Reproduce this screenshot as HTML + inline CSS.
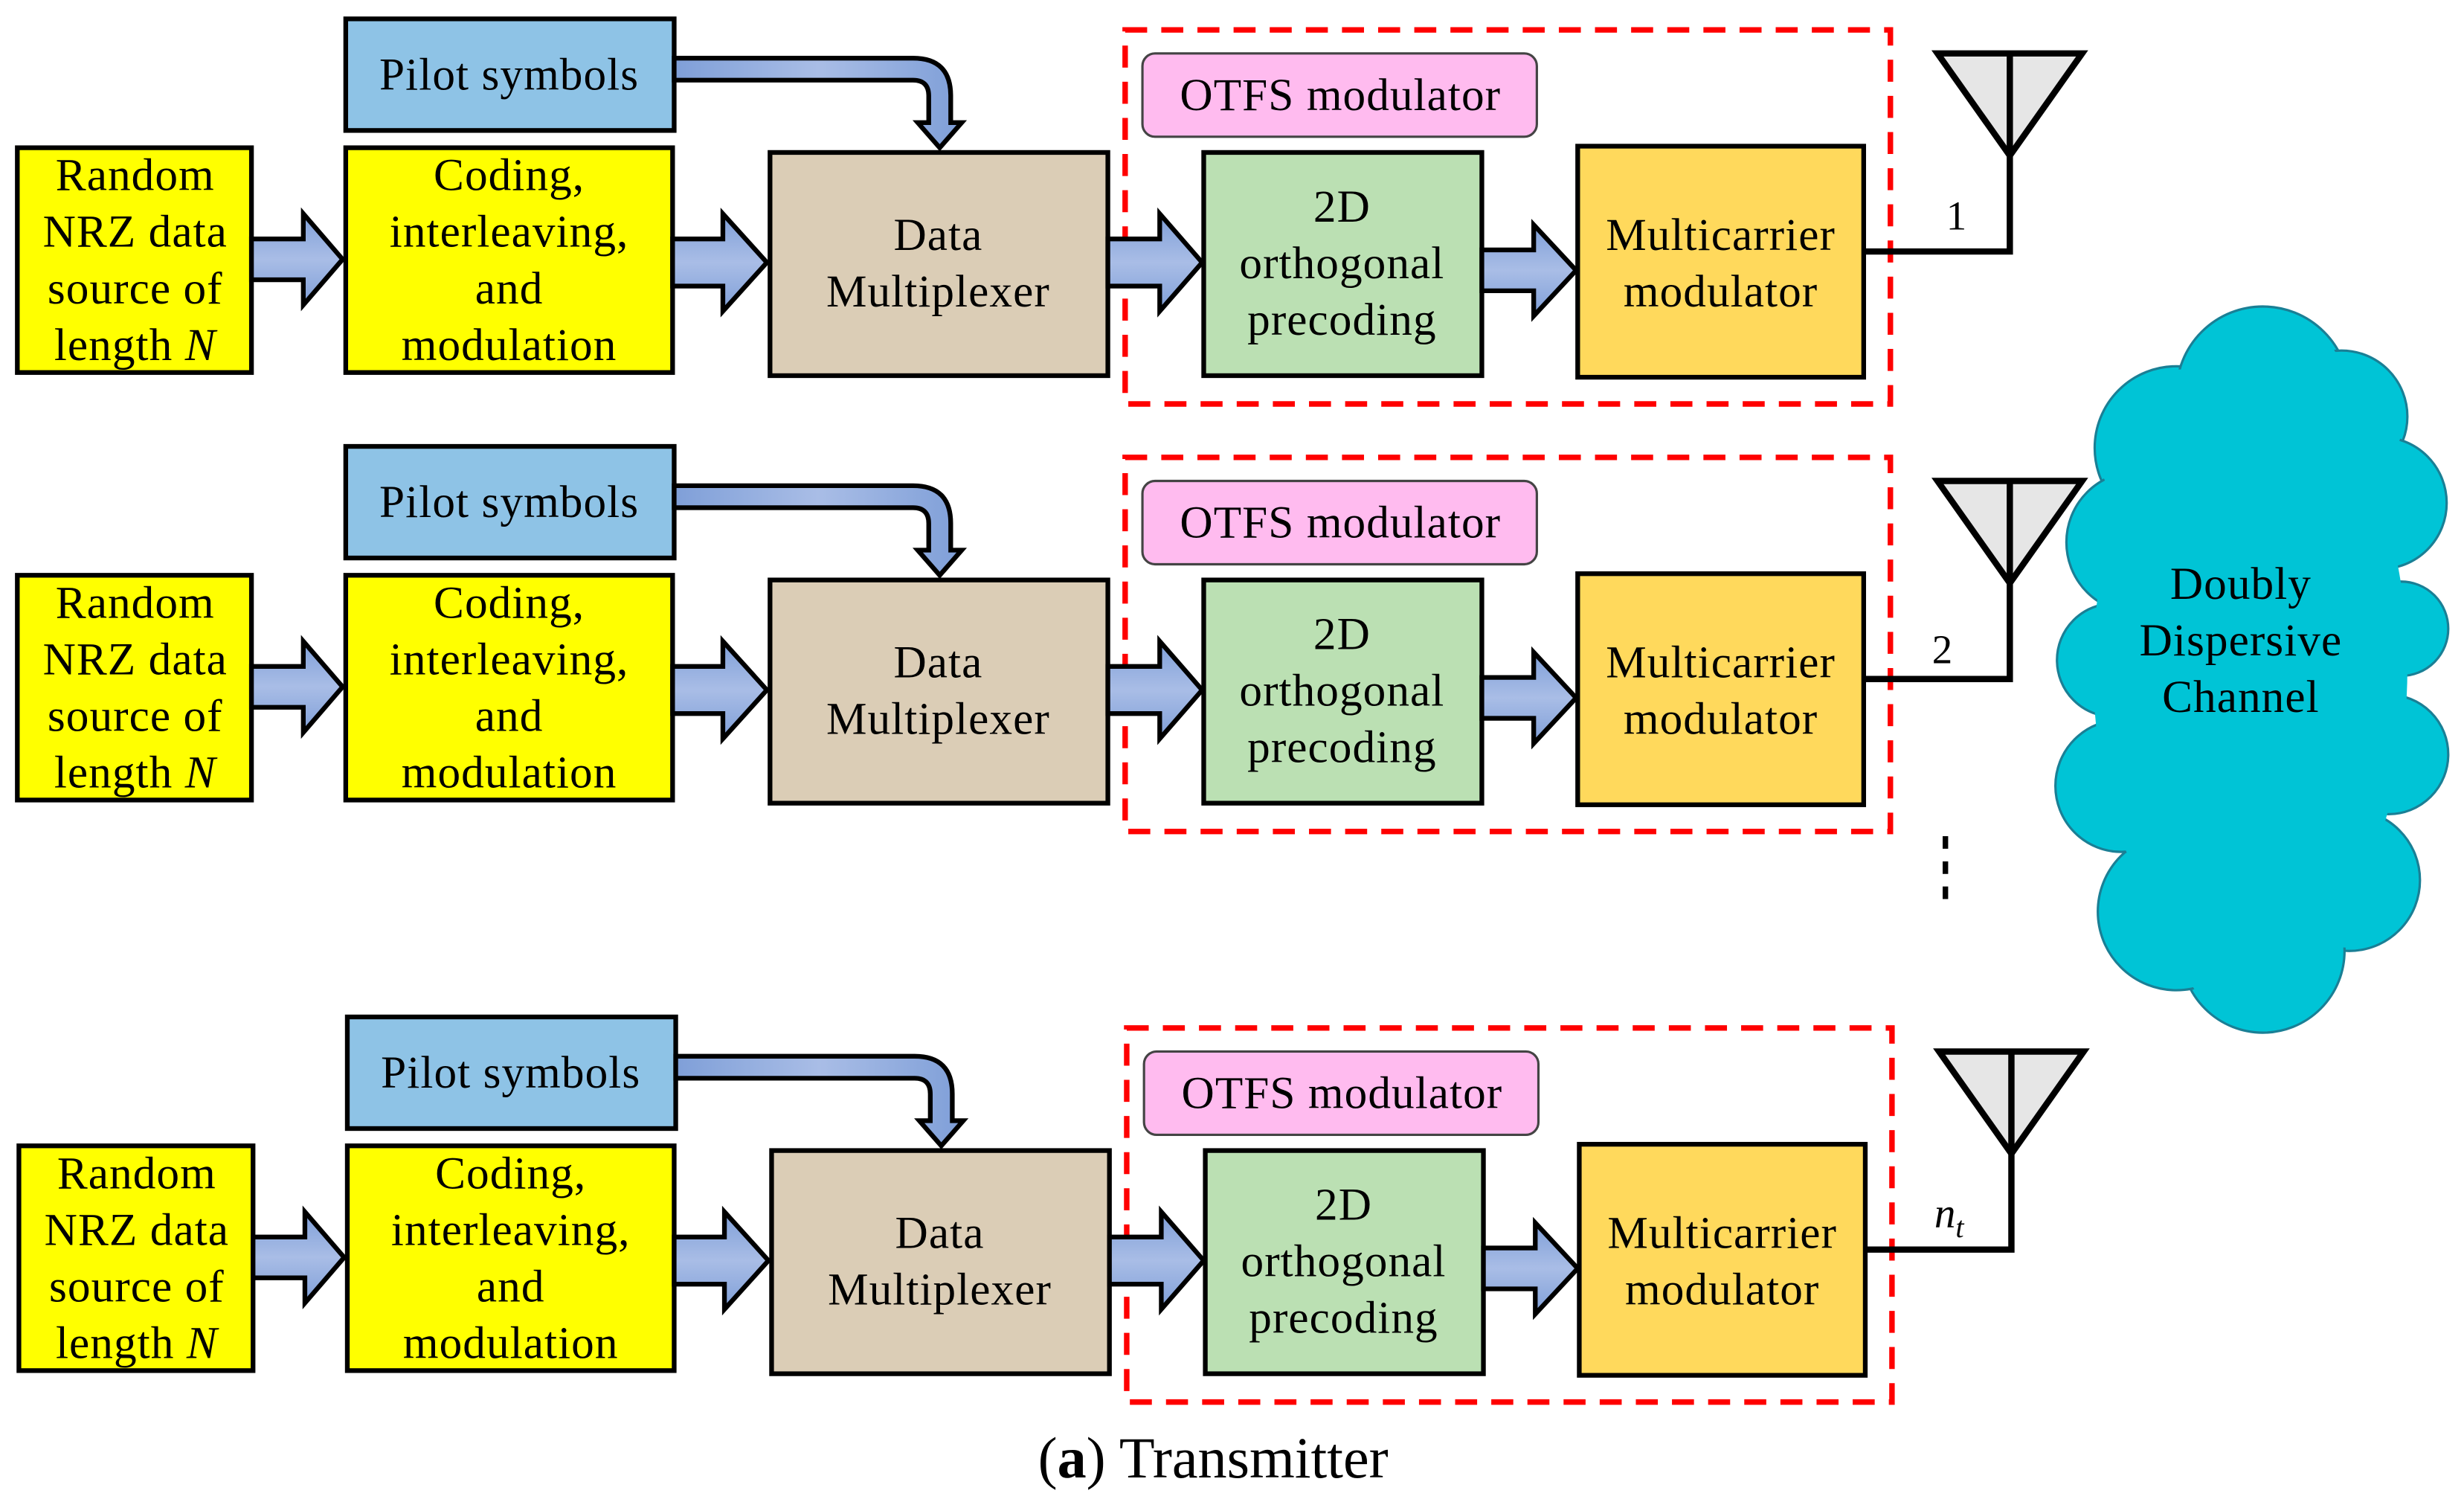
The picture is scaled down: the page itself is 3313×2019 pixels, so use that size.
<!DOCTYPE html>
<html><head><meta charset="utf-8"><style>
html,body{margin:0;padding:0;background:#fff;}
svg{display:block;}
text{font-family:"Liberation Serif",serif;fill:#000;}
.t{font-size:29px;letter-spacing:0.5px;}
</style></head><body>
<svg width="3313" height="2019" viewBox="0 0 1568 955.6" xmlns="http://www.w3.org/2000/svg">
<defs>
<linearGradient id="ga" x1="0" y1="0" x2="0" y2="1">
<stop offset="0" stop-color="#7f9fd8"/><stop offset="0.5" stop-color="#a9bde6"/><stop offset="1" stop-color="#7f9fd8"/>
</linearGradient>
<linearGradient id="gb" x1="0" y1="0" x2="1" y2="0">
<stop offset="0" stop-color="#7f9fd8"/><stop offset="0.5" stop-color="#a9bde6"/><stop offset="1" stop-color="#7f9fd8"/>
</linearGradient>
<g id="row">
  <rect x="220" y="12" width="209" height="71" fill="#8ec3e6" stroke="#000" stroke-width="3"/>
  <text class="t" x="324" y="57" text-anchor="middle">Pilot symbols</text>
  <path d="M429,37 L581,37 Q605,37 605,61 L605,78 L612,78 L598,94 L584,78 L591,78 L591,61 Q591,51 581,51 L429,51 Z" fill="url(#gb)" stroke="#000" stroke-width="3" stroke-linejoin="miter"/>
  <rect x="11" y="94" width="149" height="143" fill="#ffff00" stroke="#000" stroke-width="3"/>
  <g class="t" text-anchor="middle">
  <text x="86" y="121">Random</text><text x="86" y="157">NRZ data</text><text x="86" y="193">source of</text><text x="86" y="229">length <tspan font-style="italic">N</tspan></text>
  </g>
  <rect x="220" y="94" width="208" height="143" fill="#ffff00" stroke="#000" stroke-width="3"/>
  <g class="t" text-anchor="middle">
  <text x="324" y="121">Coding,</text><text x="324" y="157">interleaving,</text><text x="324" y="193">and</text><text x="324" y="229">modulation</text>
  </g>
  <rect x="490" y="97" width="215" height="142" fill="#dbcdb6" stroke="#000" stroke-width="3"/>
  <g class="t" text-anchor="middle">
  <text x="597" y="159">Data</text><text x="597" y="195">Multiplexer</text>
  </g>
  <rect x="716" y="19" width="487" height="238" fill="none" stroke="#ff0000" stroke-width="3.5" stroke-dasharray="14,9"/>
  <rect x="727" y="34" width="251" height="53" rx="8" fill="#ffbbef" stroke="#444" stroke-width="1.5"/>
  <text class="t" x="853" y="70" text-anchor="middle">OTFS modulator</text>
  <rect x="766" y="97" width="177" height="142" fill="#bbe0b3" stroke="#000" stroke-width="3"/>
  <g class="t" text-anchor="middle">
  <text x="854" y="141">2D</text><text x="854" y="177">orthogonal</text><text x="854" y="213">precoding</text>
  </g>
  <rect x="1004" y="93" width="182" height="147" fill="#ffd95c" stroke="#000" stroke-width="3"/>
  <g class="t" text-anchor="middle">
  <text x="1095" y="159">Multicarrier</text><text x="1095" y="195">modulator</text>
  </g>
  <path d="M160,152 L193,152 L193,136 L218,165 L193,194 L193,178 L160,178 Z" fill="url(#ga)" stroke="#000" stroke-width="3"/>
  <path d="M428,152 L460,152 L460,136 L488,167 L460,198 L460,182 L428,182 Z" fill="url(#ga)" stroke="#000" stroke-width="3"/>
  <path d="M705,152 L738,152 L738,136 L765,167 L738,198 L738,182 L705,182 Z" fill="url(#ga)" stroke="#000" stroke-width="3"/>
  <path d="M943,159 L976,159 L976,143 L1003,172 L976,201 L976,185 L943,185 Z" fill="url(#ga)" stroke="#000" stroke-width="3"/>
  <path d="M1233,34 L1325,34 L1279,99 Z" fill="#e6e6e6" stroke="#000" stroke-width="4" stroke-linejoin="miter"/>
  <path d="M1279,34 L1279,160 L1186,160" fill="none" stroke="#000" stroke-width="4"/>
</g>
</defs>
<rect width="1568" height="956" fill="#fff"/>
<use href="#row"/>
<use href="#row" transform="translate(0,272)"/>
<use href="#row" transform="translate(1,635)"/>
<text x="1245" y="146" font-size="26" text-anchor="middle">1</text>
<text x="1236" y="422" font-size="26" text-anchor="middle">2</text>
<text x="1231" y="781" font-size="27" font-style="italic">n<tspan font-size="19" dy="6">t</tspan></text>
<line x1="1238" y1="532" x2="1238" y2="578" stroke="#000" stroke-width="3.5" stroke-dasharray="8,8"/>
<g fill="#00c4d6" stroke="#1a7f95" stroke-width="1.5">
<circle cx="1385" cy="285" r="52"/><circle cx="1440" cy="250" r="55"/><circle cx="1490" cy="265" r="42"/>
<circle cx="1515" cy="320" r="42"/><circle cx="1528" cy="400" r="30"/><circle cx="1520" cy="480" r="38"/>
<circle cx="1495" cy="560" r="45"/><circle cx="1440" cy="605" r="52"/><circle cx="1385" cy="580" r="50"/>
<circle cx="1350" cy="500" r="42"/><circle cx="1345" cy="420" r="36"/><circle cx="1360" cy="345" r="45"/>
</g>
<g fill="#00c4d6">
<circle cx="1385" cy="285" r="50"/><circle cx="1440" cy="250" r="53"/><circle cx="1490" cy="265" r="40"/>
<circle cx="1515" cy="320" r="40"/><circle cx="1528" cy="400" r="28"/><circle cx="1520" cy="480" r="36"/>
<circle cx="1495" cy="560" r="43"/><circle cx="1440" cy="605" r="50"/><circle cx="1385" cy="580" r="48"/>
<circle cx="1350" cy="500" r="40"/><circle cx="1345" cy="420" r="34"/><circle cx="1360" cy="345" r="43"/>
<ellipse cx="1432" cy="425" rx="100" ry="190"/>
</g>
<g class="t" text-anchor="middle">
<text x="1426" y="381">Doubly</text><text x="1426" y="417">Dispersive</text><text x="1426" y="453">Channel</text>
</g>
<text x="772" y="940" font-size="37" text-anchor="middle">(<tspan font-weight="bold">a</tspan>) Transmitter</text>
</svg>
</body></html>
